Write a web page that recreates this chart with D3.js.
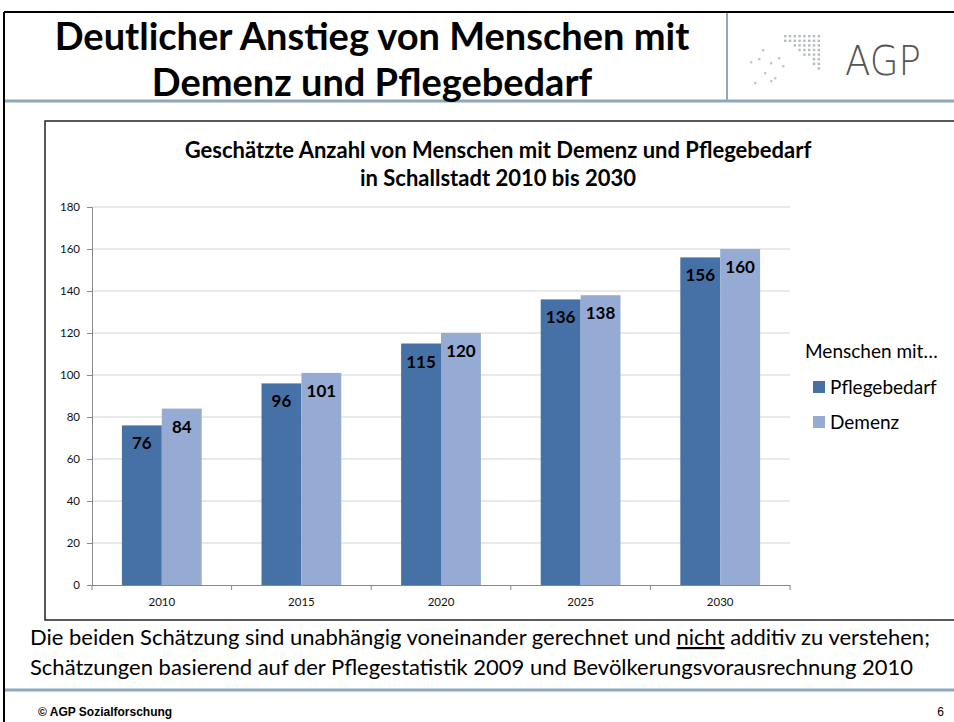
<!DOCTYPE html>
<html>
<head>
<meta charset="utf-8">
<script src="https://cdn.jsdelivr.net/npm/d3@7"></script>
<style>
  body { margin: 0; background: #fff; }
  svg { display: block; font-family: Lato, "Open Sans", sans-serif; }
</style>
</head>
<body>
<div id="chart"></div>
<script>
// chart data
const years = ["2010", "2015", "2020", "2025", "2030"];
const seriesNames = ["Pflegebedarf", "Demenz"];
const pflegebedarf = [76, 96, 115, 136, 156];
const demenz = [84, 101, 120, 138, 160];
const yTicks = [0, 20, 40, 60, 80, 100, 120, 140, 160, 180];
const colors = ["#4571a6", "#95abd3"];

const W = 954, H = 722;
const svg = d3.select("#chart").append("svg")
    .attr("width", W)
    .attr("height", H);

// slide frame
svg.append("line").attr("x1", 4).attr("x2", W).attr("y1", 12).attr("y2", 12)
    .attr("stroke", "#000").attr("stroke-width", 2);
svg.append("line").attr("x1", 4).attr("x2", 4).attr("y1", 12).attr("y2", H)
    .attr("stroke", "#000").attr("stroke-width", 2);
svg.append("line").attr("x1", 727).attr("x2", 727).attr("y1", 13).attr("y2", 101)
    .attr("stroke", "#8ea8ba").attr("stroke-width", 2);
svg.append("line").attr("x1", 5).attr("x2", W).attr("y1", 101).attr("y2", 101)
    .attr("stroke", "#8ea8ba").attr("stroke-width", 3);
svg.append("line").attr("x1", 5).attr("x2", W).attr("y1", 690).attr("y2", 690)
    .attr("stroke", "#8ea8ba").attr("stroke-width", 3);

// slide title
svg.append("text").attr("x", 372).attr("y", 50)
    .attr("text-anchor", "middle").attr("font-size", 38).attr("font-weight", "bold")
    .text("Deutlicher Anstieg von Menschen mit");
svg.append("text").attr("x", 372).attr("y", 96)
    .attr("text-anchor", "middle").attr("font-size", 38).attr("font-weight", "bold")
    .text("Demenz und Pflegebedarf");

// logo: dot grid plus scattered dots
const logo = svg.append("g").attr("transform", "translate(784,35)");
for (let r = 0; r < 8; r++) {
    for (let c = 0; c < 8; c++) {
        if (r >= 2 && c < r) continue;
        if (r >= 5 && c < 6) continue;
        logo.append("rect").attr("x", c * 4.8).attr("y", r * 4.6)
            .attr("width", 2.4).attr("height", 2.4).attr("fill", "#b4bbbf");
    }
}
[[-34, 26], [-22, 14], [-26, 23], [-14, 27], [-6, 22], [-20, 37], [-10, 42], [-30, 47], [-14, 45], [-2, 30]]
    .forEach(p => logo.append("rect").attr("x", p[0]).attr("y", p[1])
        .attr("width", 2.4).attr("height", 2.4).attr("fill", "#c3c8cb"));
svg.append("text").attr("x", 845).attr("y", 75)
    .attr("font-family", "'DejaVu Sans', sans-serif").attr("font-weight", 200)
    .attr("font-size", 40).attr("fill", "#555").attr("textLength", 76)
    .attr("lengthAdjust", "spacingAndGlyphs")
    .text("AGP");

// chart box
svg.append("rect").attr("x", 45).attr("y", 121).attr("width", W).attr("height", 499)
    .attr("fill", "#fff").attr("stroke", "#222").attr("stroke-width", 1.5);

svg.append("text").attr("x", 498).attr("y", 158)
    .attr("text-anchor", "middle").attr("font-size", 22).attr("font-weight", "bold")
    .text("Geschätzte Anzahl von Menschen mit Demenz und Pflegebedarf");
svg.append("text").attr("x", 498).attr("y", 186)
    .attr("text-anchor", "middle").attr("font-size", 22).attr("font-weight", "bold")
    .text("in Schallstadt 2010 bis 2030");

const plot = { left: 92, right: 790, top: 207, bottom: 585 };

const x = d3.scaleBand().domain(years).range([plot.left, plot.right]).paddingInner(0).paddingOuter(0);
const x1 = d3.scaleBand().domain(seriesNames).range([0, x.bandwidth()]).paddingOuter(0.75).paddingInner(0);
const y = d3.scaleLinear().domain([0, 180]).range([plot.bottom, plot.top]);

// gridlines
svg.append("g").selectAll("line").data(yTicks.filter(d => d > 0)).enter().append("line")
    .attr("x1", plot.left).attr("x2", plot.right)
    .attr("y1", d => y(d)).attr("y2", d => y(d))
    .attr("stroke", "#d4d4d4").attr("stroke-width", 1.2);

// bars
const groups = svg.append("g").selectAll("g").data(years).enter().append("g")
    .attr("transform", d => "translate(" + x(d) + ",0)");
groups.each(function (yr, i) {
    const vals = [pflegebedarf[i], demenz[i]];
    const g = d3.select(this);
    g.selectAll("rect").data(vals).enter().append("rect")
        .attr("x", (d, j) => x1(seriesNames[j]))
        .attr("y", d => y(d))
        .attr("width", x1.bandwidth())
        .attr("height", d => y(0) - y(d))
        .attr("fill", (d, j) => colors[j]);
    g.selectAll("text").data(vals).enter().append("text")
        .attr("x", (d, j) => x1(seriesNames[j]) + x1.bandwidth() / 2)
        .attr("y", d => y(d) + 24)
        .attr("text-anchor", "middle")
        .attr("font-size", 17).attr("font-weight", "bold")
        .text(d => d);
});

// axes
const yAxis = svg.append("g").attr("transform", "translate(" + plot.left + ",0)")
    .call(d3.axisLeft(y).tickValues(yTicks).tickSize(5).tickPadding(7));
const xAxis = svg.append("g").attr("transform", "translate(0," + plot.bottom + ")")
    .call(d3.axisBottom(x).tickSize(0).tickPadding(13));
// category boundary ticks
svg.append("g").selectAll("line").data(years.concat(["end"])).enter().append("line")
    .attr("x1", (d, i) => plot.left + i * x.bandwidth())
    .attr("x2", (d, i) => plot.left + i * x.bandwidth())
    .attr("y1", plot.bottom).attr("y2", plot.bottom + 5)
    .attr("stroke", "#888");
[yAxis, xAxis].forEach(a => {
    a.select(".domain").attr("stroke", "#888");
    a.selectAll(".tick line").attr("stroke", "#888");
    a.selectAll("text").attr("font-size", 11.5).attr("fill", "#111")
        .attr("font-family", "Lato, sans-serif");
});

// legend
svg.append("text").attr("x", 805).attr("y", 358).attr("font-size", 19).text("Menschen mit…");
const legend = svg.append("g").selectAll("g").data(seriesNames).enter().append("g")
    .attr("transform", (d, i) => "translate(813," + (381 + i * 35) + ")");
legend.append("rect").attr("width", 12).attr("height", 12).attr("fill", (d, i) => colors[i]);
legend.append("text").attr("x", 17).attr("y", 13).attr("font-size", 19).text(d => d);

// notes
const note1 = svg.append("text").attr("x", 30).attr("y", 645).attr("font-size", 22);
note1.append("tspan").text("Die beiden Schätzung sind unabhängig voneinander gerechnet und ");
note1.append("tspan").attr("text-decoration", "underline").text("nicht");
note1.append("tspan").text(" additiv zu verstehen;");
svg.append("text").attr("x", 30).attr("y", 675).attr("font-size", 22)
    .text("Schätzungen basierend auf der Pflegestatistik 2009 und Bevölkerungsvorausrechnung 2010");

// footer
svg.append("text").attr("x", 38).attr("y", 716).attr("font-size", 12).attr("font-weight", "bold")
    .attr("font-family", "'Liberation Sans', Arial, sans-serif")
    .text("© AGP Sozialforschung");
svg.append("text").attr("x", 944).attr("y", 716).attr("font-size", 12).attr("text-anchor", "end")
    .attr("font-family", "'Liberation Sans', Arial, sans-serif")
    .text("6");
</script>
</body>
</html>
